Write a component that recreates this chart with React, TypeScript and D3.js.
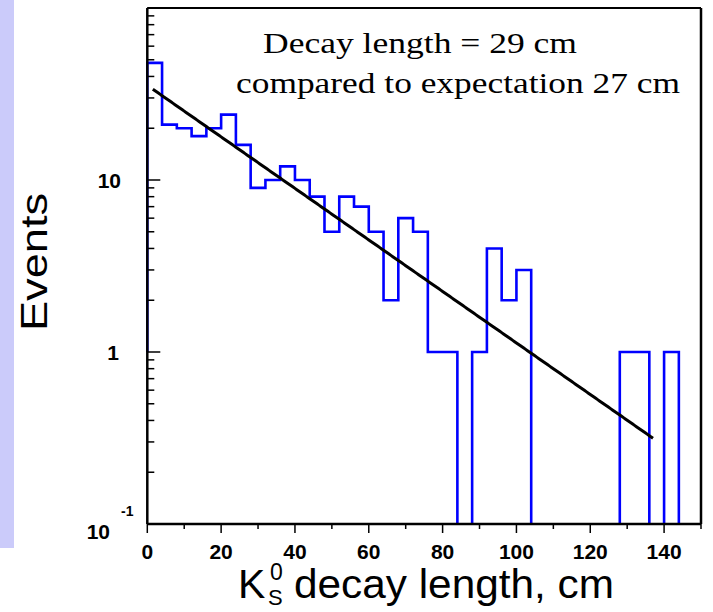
import React from "react";
import * as d3 from "d3";

const binEdges = [0, 4, 8, 12, 16, 20, 24, 28, 32, 36, 40, 44, 48, 52, 56, 60, 64, 68, 72, 76, 80, 84, 88, 92, 96, 100, 104, 108, 112, 116, 120, 124, 128, 132, 136, 140, 144];
const counts = [48, 21, 20, 18, 20, 24, 16, 9, 10, 12, 10, 8, 5, 8, 7, 5, 2, 6, 5, 1, 1, 0, 1, 4, 2, 3, 0, 0, 0, 0, 0, 0, 1, 1, 0, 1];
const xTicks = [0, 20, 40, 60, 80, 100, 120, 140];
const fitAmplitude = 35.5;
const fitDecay = 29;
const fitRange = [1.5, 137.3];
const title1 = "Decay length = 29 cm";
const title2 = "compared to expectation 27 cm";

const W = 713, H = 612;
const x = d3.scaleLinear().domain([0, 150]).range([147.3, 701]);
const y = d3.scaleLog().domain([0.1, 100]).range([524, 8]);

export default function App() {
  const yb = y(0.1);
  let d = `M${x(0)},${y(1)} L${x(0)},${y(counts[0])}`;
  for (let i = 0; i < counts.length; i++) {
    const v = counts[i];
    const yy = v > 0 ? y(v) : yb;
    const prev = i > 0 ? (counts[i - 1] > 0 ? y(counts[i - 1]) : yb) : y(counts[0]);
    if (i > 0) d += (prev === yb && yy === yb) ? ` M${x(binEdges[i])},${yy}` : ` L${x(binEdges[i])},${yy}`;
    if (v > 0) d += ` L${x(binEdges[i + 1])},${yy}`;
    else d += ` M${x(binEdges[i + 1])},${yb}`;
  }
  const last = counts[counts.length - 1];
  if (last > 0) d += ` L${x(binEdges[binEdges.length - 1])},${yb}`;

  const fitPts = d3.range(fitRange[0], fitRange[1] + 0.01, 0.5).map((t) => [t, fitAmplitude * Math.exp(-t / fitDecay)] as [number, number]);
  const line = d3.line<[number, number]>().x((p) => x(p[0])).y((p) => y(p[1]));

  const yMajor = [0.1, 1, 10, 100];
  const yMinor: number[] = [];
  [0.1, 1, 10].forEach((dec) => { for (let k = 2; k <= 9; k++) yMinor.push(dec * k); });
  const xMinor = d3.range(10, 151, 20);

  const sans = "'Liberation Sans', Arial, sans-serif";
  const serif = "'Liberation Serif', 'Times New Roman', serif";

  return (
    <svg width={W} height={H} style={{ position: "absolute", left: 0, top: 0, background: "#fff" }}>
      <rect x={0} y={0} width={14} height={548} fill="#cbcbfa" />
      <path d={d} fill="none" stroke="#0000ff" strokeWidth={2.6} />
      <path d={line(fitPts) || ""} fill="none" stroke="#000" strokeWidth={3} />
      <line x1={x(0)} x2={x(150)} y1={y(100)} y2={y(100)} stroke="#000" strokeWidth={2} />
      <line x1={x(150)} x2={x(150)} y1={y(100)} y2={yb} stroke="#000" strokeWidth={2.5} />
      <line x1={x(0)} x2={x(0)} y1={y(100)} y2={yb} stroke="#000" strokeWidth={2.5} />
      <line x1={x(0)} x2={x(150)} y1={yb} y2={yb} stroke="#000" strokeWidth={2.5} />
      {yMajor.map((v) => <line key={"ym" + v} x1={x(0)} x2={x(0) + 13} y1={y(v)} y2={y(v)} stroke="#000" strokeWidth={1.5} />)}
      {yMinor.map((v) => <line key={"yn" + v} x1={x(0)} x2={x(0) + 7} y1={y(v)} y2={y(v)} stroke="#000" strokeWidth={1.5} />)}
      {xTicks.map((v) => <line key={"xm" + v} x1={x(v)} x2={x(v)} y1={yb} y2={yb + 9} stroke="#000" strokeWidth={1.5} />)}
      {xMinor.map((v) => <line key={"xn" + v} x1={x(v)} x2={x(v)} y1={yb} y2={yb + 5} stroke="#000" strokeWidth={1.5} />)}
      {xTicks.map((v) => (
        <text key={"xl" + v} x={x(v)} y={559} textAnchor="middle" fontFamily={sans} fontSize={21} fontWeight="bold">{v}</text>
      ))}
      <text x={121} y={188} textAnchor="end" fontFamily={sans} fontSize={21} fontWeight="bold">10</text>
      <text x={119} y={360} textAnchor="end" fontFamily={sans} fontSize={21} fontWeight="bold">1</text>
      <text x={110} y={539} textAnchor="end" fontFamily={sans} fontSize={21} fontWeight="bold">10</text>
      <text x={121} y={516} fontFamily={sans} fontSize={14} fontWeight="bold">-1</text>
      <text transform="translate(47,262) rotate(-90)" textAnchor="middle" fontFamily={sans} fontSize={36} textLength={138} lengthAdjust="spacingAndGlyphs">Events</text>
      <text x={238} y={598} fontFamily={sans} fontSize={41}>K</text>
      <text x={270} y={580} fontFamily={sans} fontSize={23}>0</text>
      <text x={268} y={605} fontFamily={sans} fontSize={22}>S</text>
      <text x={294} y={598} fontFamily={sans} fontSize={41} textLength={320} lengthAdjust="spacingAndGlyphs">decay length, cm</text>
      <text x={263} y={53} fontFamily={serif} fontSize={29} textLength={314} lengthAdjust="spacingAndGlyphs">{title1}</text>
      <text x={236} y={93} fontFamily={serif} fontSize={29} textLength={444} lengthAdjust="spacingAndGlyphs">{title2}</text>
    </svg>
  );
}
